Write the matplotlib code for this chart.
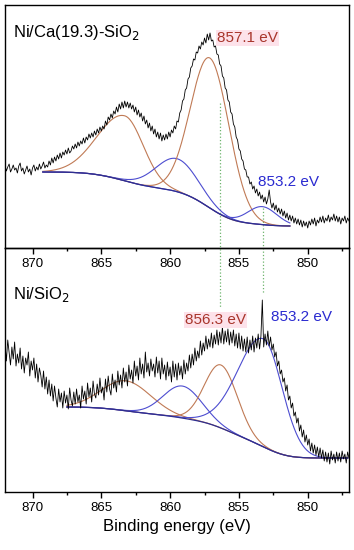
import numpy as np
import matplotlib
matplotlib.use("Agg")
import matplotlib.pyplot as plt
from matplotlib.ticker import MultipleLocator

plt.rcParams['font.family'] = ['Liberation Sans', 'DejaVu Sans']

# ---------------- data ----------------
energy_start, energy_end = 872.0, 847.0   # spectra sampled every 0.1 eV

top_counts = [
    83, 77, 81, 84, 76, 79, 83, 78, 80, 75, 82, 85, 77, 80, 74, 78, 82, 76, 79, 73,
    80, 83, 77, 81, 78, 84, 79, 82, 86, 80, 83, 81, 87, 83, 90, 85, 91, 87, 93, 89,
    95, 90, 96, 93, 98, 94, 100, 95, 97, 102, 99, 104, 100, 106, 102, 107, 104, 110, 105, 111,
    108, 114, 110, 115, 111, 117, 113, 119, 115, 121, 117, 122, 119, 127, 123, 131, 128, 134, 130, 137,
    134, 141, 136, 144, 139, 146, 140, 147, 141, 146, 140, 145, 139, 143, 136, 141, 133, 138, 131, 135,
    127, 132, 124, 128, 120, 125, 117, 122, 114, 119, 111, 116, 109, 115, 107, 113, 108, 114, 109, 116,
    111, 118, 115, 122, 119, 127, 126, 135, 138, 147, 149, 158, 160, 169, 171, 180, 182, 189, 188, 196,
    195, 202, 199, 206, 203, 210, 205, 214, 208, 215, 207, 208, 201, 202, 194, 193, 184, 182, 172, 170,
    160, 158, 148, 146, 136, 134, 124, 121, 111, 108, 99, 97, 89, 87, 79, 78, 71, 71, 64, 66,
    59, 62, 55, 59, 52, 56, 49, 53, 46, 51, 44, 49, 58, 46, 40, 45, 38, 43, 36, 40,
    34, 39, 32, 37, 30, 35, 28, 33, 27, 32, 25, 30, 24, 29, 23, 28, 21, 27, 22, 26,
    20, 27, 23, 29, 24, 30, 22, 28, 25, 31, 26, 32, 25, 30, 27, 33, 26, 31, 28, 34,
    27, 32, 26, 31, 24, 30, 27, 32, 25, 30, 27]

bot_counts = [
    148, 131, 152, 139, 127, 145, 133, 150, 126, 138, 129, 144, 123, 136, 119, 134, 127, 140, 116, 131,
    122, 134, 114, 128, 110, 124, 117, 105, 121, 103, 115, 98, 112, 96, 108, 91, 106, 94, 85, 103,
    90, 99, 84, 101, 89, 97, 83, 104, 92, 86, 100, 88, 103, 90, 97, 84, 106, 93, 101, 88,
    109, 95, 104, 90, 111, 98, 94, 108, 97, 114, 99, 105, 92, 113, 100, 116, 103, 97, 118, 104,
    112, 100, 121, 107, 117, 104, 124, 110, 120, 106, 127, 113, 122, 109, 131, 116, 126, 112, 134, 118,
    128, 114, 140, 120, 129, 116, 133, 121, 128, 115, 135, 119, 131, 113, 134, 118, 127, 112, 130, 116,
    125, 110, 131, 115, 128, 112, 129, 117, 126, 113, 132, 118, 129, 121, 137, 124, 138, 127, 144, 131,
    141, 134, 151, 137, 149, 141, 156, 143, 153, 145, 159, 144, 157, 148, 162, 147, 160, 149, 165, 148,
    161, 150, 163, 147, 160, 149, 162, 146, 158, 144, 159, 143, 156, 141, 153, 140, 155, 139, 152, 142,
    156, 140, 154, 144, 158, 143, 156, 192, 145, 158, 147, 161, 146, 155, 142, 148, 135, 140, 126, 131,
    118, 122, 110, 114, 101, 107, 92, 96, 84, 89, 76, 80, 69, 74, 61, 67, 55, 62, 50, 57,
    47, 53, 41, 49, 39, 47, 37, 45, 35, 44, 34, 42, 31, 40, 30, 39, 28, 41, 32, 38,
    29, 40, 31, 39, 30, 41, 33, 38, 29, 40, 34]

# fitted components (centre eV, height, FWHM on low-BE side, FWHM on high-BE side)
top_centers = [863.3, 859.5, 857.1, 853.3]
top_heights = [65, 33, 150, 18]
top_fwhm_low = [3.2, 3.6, 3.3, 2.5]
top_fwhm_high = [4.6, 3.6, 3.3, 2.5]
top_kinds = ['red', 'blue', 'red', 'blue']
top_bg_range = [869.25, 851.3]
top_bg_levels = [76, 22]

bot_centers = [863.2, 859.1, 856.3, 853.2]
bot_heights = [30, 32, 63, 108]
bot_fwhm_low = [4.2, 3.3, 2.8, 3.2]
bot_fwhm_high = [4.2, 3.3, 2.8, 4.4]
bot_kinds = ['red', 'blue', 'red', 'blue']
bot_bg_range = [867.5, 847.1]
bot_bg_levels = [85, 34]

tick_values = [870, 865, 860, 855, 850]

RED_LINE = '#c07a55'
RED_TEXT = '#a8352b'
BLUE_LINE = '#4d4dd0'
BLUE_TEXT = '#2a2ad0'
BASE = '#2e2e90'

# ---------------- helpers ----------------
def gauss(e, c, h, fl, fh):
    sl = fl / 2.3548
    sh = fh / 2.3548
    s = np.where(e < c, sl, sh)
    return h * np.exp(-0.5 * ((e - c) / s) ** 2)


def draw_panel(ax, counts, centers, heights, fwl, fwh, kinds, bg_range, bg_levels):
    e = np.linspace(energy_start, energy_end, len(counts))
    ax.plot(e, counts, color='black', lw=0.6, zorder=3)
    ef = np.linspace(bg_range[0], bg_range[1], 400)
    comps = [gauss(ef, c, h, a, b) for c, h, a, b in zip(centers, heights, fwl, fwh)]
    tot = np.sum(comps, axis=0)
    # Shirley-type background: cumulative area from the low-BE end
    cum = np.cumsum(tot[::-1])[::-1]
    cum = cum / cum[0]
    bg = bg_levels[1] + (bg_levels[0] - bg_levels[1]) * cum
    for comp, k in zip(comps, kinds):
        ax.plot(ef, bg + comp, color=RED_LINE if k == 'red' else BLUE_LINE, lw=0.8, zorder=2)
    ax.plot(ef, bg, color=BASE, lw=0.9, zorder=2)


fig = plt.figure(figsize=(3.54, 5.5), dpi=100)
ax_top = fig.add_axes([5 / 354, 1 - 248 / 550, 344 / 354, 243 / 550])
ax_bot = fig.add_axes([5 / 354, 1 - 492 / 550, 344 / 354, 244 / 550])

for ax in (ax_top, ax_bot):
    ax.set_facecolor('none')
    ax.set_xlim(energy_start, energy_end)
    ax.set_yticks([])
    ax.xaxis.set_major_locator(plt.FixedLocator(tick_values))
    ax.xaxis.set_minor_locator(MultipleLocator(2.5))
    ax.tick_params(axis='x', which='major', direction='out', length=4, width=1,
                   labelsize=9.5, pad=3, colors='black')
    ax.tick_params(axis='x', which='minor', direction='out', length=2.5, width=1)
    for s in ax.spines.values():
        s.set_linewidth(1.0)
        s.set_color('black')

ax_top.set_ylim(0, 243)
ax_bot.set_ylim(0, 244)
ax_top.set_zorder(3)

draw_panel(ax_top, top_counts, top_centers, top_heights, top_fwhm_low, top_fwhm_high, top_kinds,
           top_bg_range, top_bg_levels)
draw_panel(ax_bot, bot_counts, bot_centers, bot_heights, bot_fwhm_low, bot_fwhm_high, bot_kinds,
           bot_bg_range, bot_bg_levels)

ax_bot.set_xlabel('Binding energy (eV)', fontsize=12, labelpad=4)

# sample labels
ax_top.text(871.45, 215, 'Ni/Ca(19.3)-SiO$_2$', fontsize=12, va='center', ha='left')
ax_bot.text(871.45, 197, 'Ni/SiO$_2$', fontsize=12, va='center', ha='left')

pink = dict(boxstyle='square,pad=0.08', facecolor='#fde2ea', edgecolor='none')
ax_top.text(856.6, 210, '857.1 eV', fontsize=11, color=RED_TEXT, va='center', ha='left', bbox=pink)
ax_top.text(853.6, 66, '853.2 eV', fontsize=11, color=BLUE_TEXT, va='center', ha='left')
ax_bot.text(858.9, 172, '856.3 eV', fontsize=11, color=RED_TEXT, va='center', ha='left', bbox=pink)
ax_bot.text(852.7, 175, '853.2 eV', fontsize=11, color=BLUE_TEXT, va='center', ha='left')

# guide lines linking the two panels
ax_top.plot([856.35, 856.35], [145, -59], ls=':', color='#6db46d', lw=0.9, clip_on=False, zorder=1)
ax_top.plot([853.25, 853.25], [40, -45], ls=':', color='#6db46d', lw=0.9, clip_on=False, zorder=1)

fig.savefig('out.png', dpi=100)
